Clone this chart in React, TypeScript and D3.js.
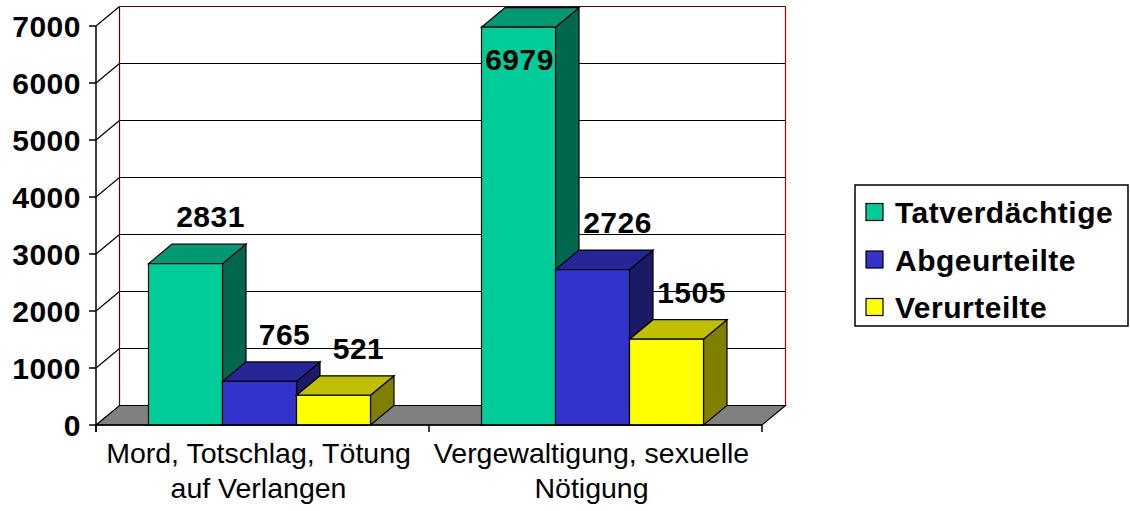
import { useEffect, useRef } from "react";
import * as d3 from "d3";

const categories = ["Mord, Totschlag, Tötung|auf Verlangen", "Vergewaltigung, sexuelle|Nötigung"];
const seriesNames = ["Tatverdächtige", "Abgeurteilte", "Verurteilte"];
const tatverdaechtige = [2831, 6979];
const abgeurteilte = [765, 2726];
const verurteilte = [521, 1505];
const yTicks = [0, 1000, 2000, 3000, 4000, 5000, 6000, 7000];

// front / top / side shades per series
const COLORS = [
  { front: "#00cc99", top: "#009973", side: "#00664d" },
  { front: "#3333cc", top: "#262699", side: "#1a1a66" },
  { front: "#ffff00", top: "#bfbf00", side: "#808000" },
];

const FONT = "'Liberation Sans', Arial, sans-serif";

export default function App() {
  const svgRef = useRef<SVGSVGElement>(null);

  useEffect(() => {
    if (!svgRef.current) return;
    const svg = d3.select(svgRef.current);
    svg.selectAll("*").remove();

    const width = 1130;
    const height = 511;
    svg.attr("width", width).attr("height", height);

    // depth offset of the 3D box
    const dx = 23.5;
    const dy = 19.5;

    const x0 = d3.scaleBand<string>().domain(categories).range([96, 762]);
    const x1 = d3
      .scaleBand<string>()
      .domain(seriesNames)
      .range([-3, x0.bandwidth() - 3])
      .paddingInner(0)
      .paddingOuter(0.75);
    const y = d3.scaleLinear().domain([0, 7000]).range([425, 26]);

    const values = [tatverdaechtige, abgeurteilte, verurteilte];
    const left = x0.range()[0];
    const right = x0.range()[1];
    const base = y(0);
    const top = y(7000);

    const boldText = (sel: d3.Selection<SVGTextElement, unknown, null, undefined>) =>
      sel
        .attr("font-family", FONT)
        .attr("font-weight", "bold")
        .attr("font-size", 30)
        .attr("letter-spacing", 0.5);

    // floor
    svg
      .append("polygon")
      .attr(
        "points",
        [
          [left, base],
          [right, base],
          [right + dx, base - dy],
          [left + dx, base - dy],
        ]
          .map((p) => p.join(","))
          .join(" "),
      )
      .attr("fill", "#808080")
      .attr("stroke", "#000")
      .attr("stroke-width", 1.2);

    // back wall grid lines
    yTicks.slice(1).forEach((t) => {
      svg
        .append("line")
        .attr("x1", left + dx)
        .attr("x2", right + dx)
        .attr("y1", y(t) - dy)
        .attr("y2", y(t) - dy)
        .attr("stroke", t === 7000 ? "#5a0000" : "#000")
        .attr("stroke-width", 1.2);
      // side wall diagonals
      svg
        .append("line")
        .attr("x1", left)
        .attr("y1", y(t))
        .attr("x2", left + dx)
        .attr("y2", y(t) - dy)
        .attr("stroke", "#000")
        .attr("stroke-width", 1.2);
    });

    // wall edges
    svg
      .append("line")
      .attr("x1", left + dx)
      .attr("x2", left + dx)
      .attr("y1", top - dy)
      .attr("y2", base - dy)
      .attr("stroke", "#5a0000")
      .attr("stroke-width", 1.2);
    svg
      .append("line")
      .attr("x1", right + dx)
      .attr("x2", right + dx)
      .attr("y1", top - dy)
      .attr("y2", base - dy)
      .attr("stroke", "#a00000")
      .attr("stroke-width", 1.2);
    svg
      .append("line")
      .attr("x1", left)
      .attr("x2", left)
      .attr("y1", top)
      .attr("y2", base + 7)
      .attr("stroke", "#000")
      .attr("stroke-width", 1.5);

    // bars
    categories.forEach((cat, ci) => {
      seriesNames.forEach((s, si) => {
        const v = values[si][ci];
        const bx0 = (x0(cat) ?? 0) + (x1(s) ?? 0);
        const bx1 = bx0 + x1.bandwidth();
        const yv = y(v);
        const c = COLORS[si];
        const g = svg.append("g").attr("stroke", "#000").attr("stroke-width", 1.2);
        const pts = (arr: number[][]) => arr.map((p) => p.join(",")).join(" ");
        g.append("polygon")
          .attr("points", pts([[bx1, yv], [bx1 + dx, yv - dy], [bx1 + dx, base - dy], [bx1, base]]))
          .attr("fill", c.side);
        g.append("polygon")
          .attr("points", pts([[bx0, yv], [bx0 + dx, yv - dy], [bx1 + dx, yv - dy], [bx1, yv]]))
          .attr("fill", c.top);
        g.append("rect")
          .attr("x", bx0)
          .attr("y", yv)
          .attr("width", bx1 - bx0)
          .attr("height", base - yv)
          .attr("fill", c.front);
      });
    });

    // x axis line and ticks
    svg
      .append("line")
      .attr("x1", left)
      .attr("x2", right)
      .attr("y1", base)
      .attr("y2", base)
      .attr("stroke", "#000")
      .attr("stroke-width", 1.5);
    [left, ...categories.map((c) => (x0(c) ?? 0) + x0.bandwidth())].forEach((tx) => {
      svg
        .append("line")
        .attr("x1", tx)
        .attr("x2", tx)
        .attr("y1", base)
        .attr("y2", base + 7)
        .attr("stroke", "#000")
        .attr("stroke-width", 1.5);
    });

    // y ticks and labels
    yTicks.forEach((t) => {
      svg
        .append("line")
        .attr("x1", left - 7)
        .attr("x2", left)
        .attr("y1", y(t))
        .attr("y2", y(t))
        .attr("stroke", "#000")
        .attr("stroke-width", 1.5);
      svg
        .append("text")
        .attr("x", 81)
        .attr("y", y(t) + 11)
        .attr("text-anchor", "end")
        .call(boldText)
        .text(String(t));
    });

    // category labels
    categories.forEach((cat) => {
      const cx = (x0(cat) ?? 0) + x0.bandwidth() / 2 - 4;
      cat.split("|").forEach((line, li) => {
        svg
          .append("text")
          .attr("x", cx)
          .attr("y", 463 + li * 35)
          .attr("text-anchor", "middle")
          .attr("font-family", FONT)
          .attr("font-size", 28.5)
          .text(line);
      });
    });

    // data labels
    categories.forEach((cat, ci) => {
      seriesNames.forEach((s, si) => {
        const v = values[si][ci];
        const cx = (x0(cat) ?? 0) + (x1(s) ?? 0) + x1.bandwidth() / 2;
        let ly = y(v) - dy - 17;
        let lx = cx + 25;
        if (ly < 40) {
          ly = y(v) + 43;
          lx = cx + 1;
        }
        svg
          .append("text")
          .attr("x", lx)
          .attr("y", ly)
          .attr("text-anchor", "middle")
          .call(boldText)
          .text(String(v));
      });
    });

    // legend
    const legend = svg.append("g").attr("transform", "translate(855,185)");
    legend
      .append("rect")
      .attr("width", 273)
      .attr("height", 141)
      .attr("fill", "#fff")
      .attr("stroke", "#000")
      .attr("stroke-width", 1.5);
    seriesNames.forEach((s, i) => {
      const cy = 27 + i * 47.5;
      legend
        .append("rect")
        .attr("x", 11)
        .attr("y", cy - 8.5)
        .attr("width", 17)
        .attr("height", 17)
        .attr("fill", COLORS[i].front)
        .attr("stroke", "#000")
        .attr("stroke-width", 1.2);
      legend
        .append("text")
        .attr("x", 40)
        .attr("y", cy + 11)
        .call(boldText)
        .text(s);
    });
  }, []);

  return <svg ref={svgRef} style={{ position: "absolute", left: 0, top: 0 }} />;
}
